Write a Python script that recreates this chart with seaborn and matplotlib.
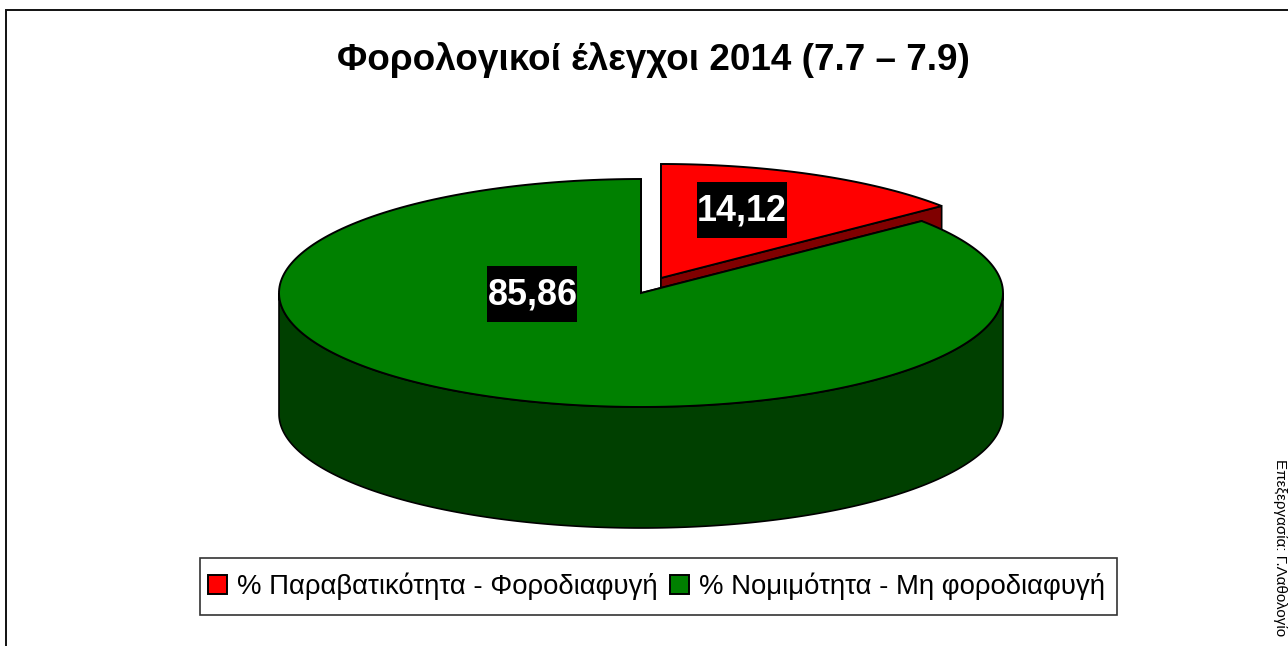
import numpy as np
import matplotlib
matplotlib.use("Agg")
import matplotlib.pyplot as plt
from matplotlib.patches import Patch, Rectangle
import seaborn as sns

title = "Φορολογικοί έλεγχοι 2014 (7.7 – 7.9)"
categories = ["% Παραβατικότητα - Φοροδιαφυγή", "% Νομιμότητα - Μη φοροδιαφυγή"]
values = [14.12, 85.86]
top_colors = ["#ff0000", "#008000"]
side_colors = ["#800000", "#004000"]
credit = "Επεξεργασία: Γ.Λαθολογίο"

sns.set_theme(style="white")
plt.rcParams["font.family"] = ["Liberation Sans", "DejaVu Sans"]

fig = plt.figure(figsize=(12.88, 6.46), dpi=100, facecolor="white")
ax = fig.add_axes([0, 0, 1, 1])
ax.set_xlim(0, 1288)
ax.set_ylim(646, 0)
ax.axis("off")

RX, RY, DEPTH = 362, 114, 121
red_c = (661, 278)
green_c = (641, 293)
split = 360 * values[0] / 100


def rim(c, a0, a1, dy=0):
    t = np.radians(np.linspace(a0, a1, 240))
    return c[0] + RX * np.sin(t), c[1] - RY * np.cos(t) + dy


def wedge(c, a0, a1, top, side, z):
    # back/cut walls first, then the visible rim wall, then the top face
    for ang in (a0, a1):
        x, y = rim(c, ang, ang)
        px = [c[0], x[0], x[0], c[0]]
        py = [c[1], y[0], y[0] + DEPTH, c[1] + DEPTH]
        ax.fill(px, py, fc=side, ec="black", lw=1.2, zorder=z)
    lo, hi = max(a0, 90), min(a1, 270)
    if hi > lo:
        x, y = rim(c, lo, hi)
        xb, yb = rim(c, lo, hi, DEPTH)
        ax.fill(np.r_[x, xb[::-1]], np.r_[y, yb[::-1]], fc=side, ec="black", lw=1.2, zorder=z + 1)
    x, y = rim(c, a0, a1)
    ax.fill(np.r_[c[0], x], np.r_[c[1], y], fc=top, ec="black", lw=1.4, zorder=z + 2, joinstyle="miter")


wedge(red_c, 0, split, top_colors[0], side_colors[0], 2)
wedge(green_c, split, 360, top_colors[1], side_colors[1], 6)

# value labels: black plate fitted tightly in width, taller than the digits
renderer = fig.canvas.get_renderer()
for value, (lx, ly) in zip(values, [(742, 211), (532.5, 295)]):
    t = ax.text(lx, ly, f"{value:.2f}".replace(".", ","), color="white", fontsize=25.8, fontweight="bold",
                ha="center", va="center", zorder=13)
    w = t.get_window_extent(renderer).width
    ax.add_patch(Rectangle((lx - w / 2, ly - 29), w, 56, fc="black", ec="none", zorder=12))

ax.text(653, 60, title, fontsize=26.6, fontweight="bold", color="black", ha="center", va="center")
ax.text(1280, 548, credit, fontsize=10.9, color="black", rotation=270, ha="center", va="center")

ax.add_patch(Rectangle((200, 558), 917, 57, fc="white", ec="#333333", lw=1.2, zorder=14))
handles = [Patch(fc=c, ec="black", lw=1.4) for c in top_colors]
leg = ax.legend(handles, categories, loc="center", bbox_to_anchor=(656.5, 586.5),
                bbox_transform=ax.transData, ncol=2, frameon=False, labelcolor="black",
                fontsize=19.85, handlelength=0.69, handleheight=0.72,
                handletextpad=0.37, columnspacing=0.44, borderpad=0.3, borderaxespad=0)
leg.set_zorder(15)

ax.plot([1288, 6, 6], [10, 10, 646], color="#111111", lw=1.4, zorder=1, solid_joinstyle="miter")

fig.savefig("out.png", dpi=100, facecolor="white")
